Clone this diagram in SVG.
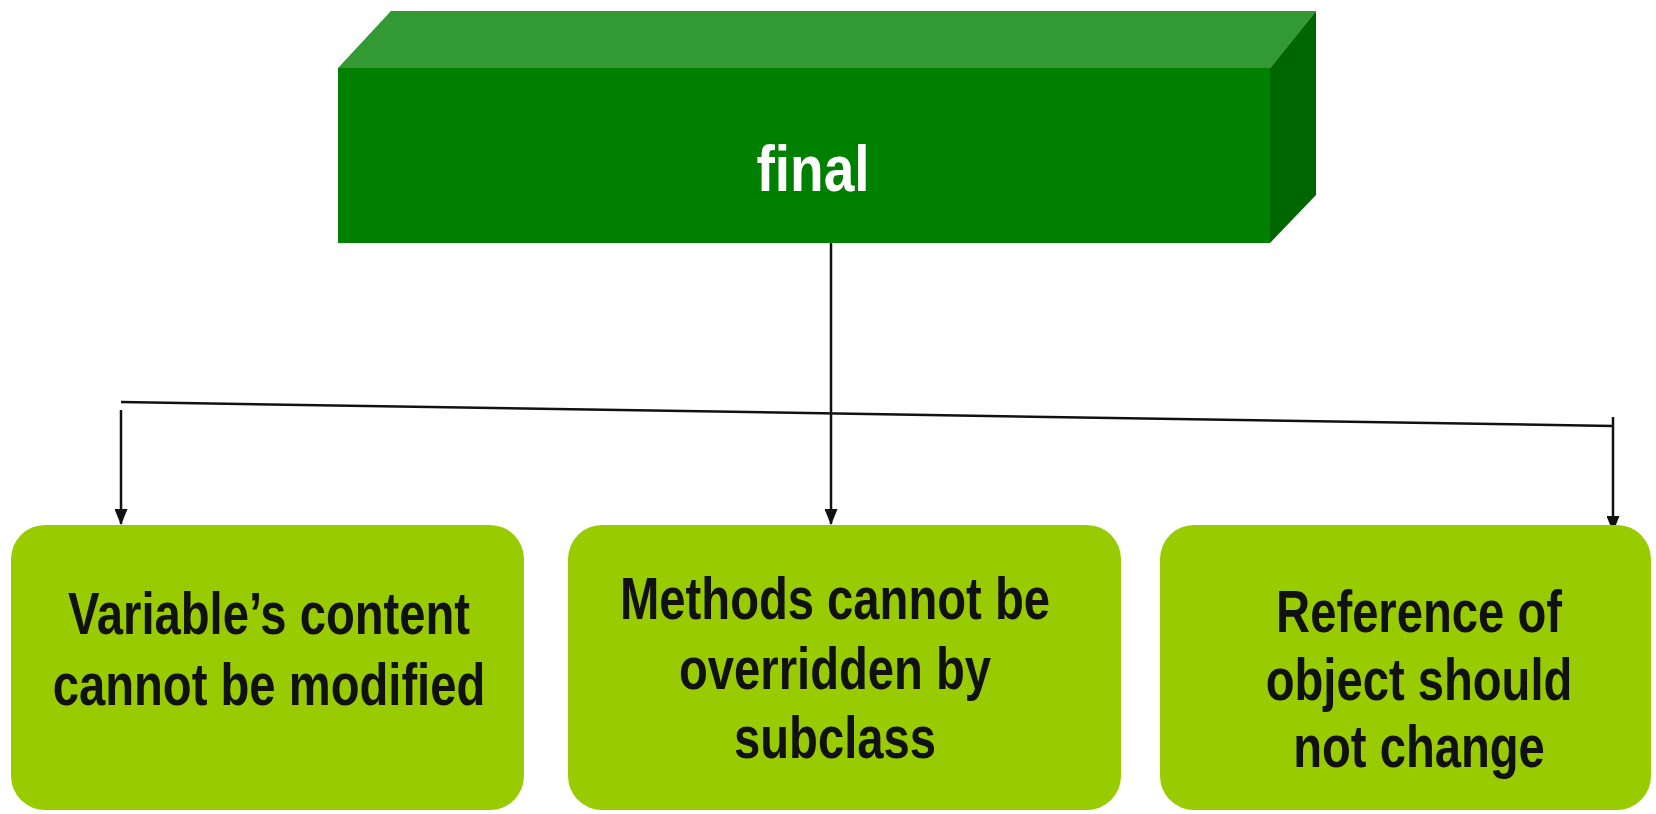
<svg xmlns="http://www.w3.org/2000/svg" width="1656" height="814" viewBox="0 0 1656 814">
<style>
.lbl{font-family:"Liberation Sans",Arial,sans-serif;font-weight:bold;font-size:59px;fill:#111;text-anchor:middle}
.ttl{font-family:"Liberation Sans",Arial,sans-serif;font-weight:bold;font-size:64px;fill:#ffffff;text-anchor:middle}
.box{fill:#99cc00}
.con{stroke:#111;stroke-width:2.5;fill:none}
</style>
<defs>
<marker id="arrow" markerWidth="16" markerHeight="13" refX="15" refY="6.5" orient="auto" markerUnits="userSpaceOnUse" viewBox="0 0 16 13">
<path d="M0,0 L16,6.5 L0,13 Z" fill="#111"/>
</marker>
</defs>
<rect width="1656" height="814" fill="#ffffff"/>
<g id="final">
<polygon points="338,68 391,11 1316,11 1270,68" fill="#339933"/>
<polygon points="1270,68 1316,11 1316,195 1270,243" fill="#006600"/>
<rect x="338" y="68" width="932" height="175" fill="#008000"/>
<text class="ttl" transform="translate(813,191) scale(0.86,1)">final</text>
</g>
<g id="connectors">
<line class="con" x1="831" y1="243" x2="831" y2="524" marker-end="url(#arrow)"/>
<line class="con" x1="121" y1="402" x2="1613" y2="426"/>
<line class="con" x1="121" y1="410" x2="121" y2="524" marker-end="url(#arrow)"/>
<line class="con" x1="1613" y1="417" x2="1613" y2="531" marker-end="url(#arrow)"/>
</g>
<g id="node1">
<rect class="box" x="11" y="525" width="513" height="285" rx="34"/>
<text class="lbl" transform="translate(269,634) scale(0.8,1)">Variable’s content</text>
<text class="lbl" transform="translate(269,705) scale(0.8,1)">cannot be modified</text>
</g>
<g id="node2">
<rect class="box" x="568" y="525" width="553" height="285" rx="34"/>
<text class="lbl" transform="translate(835,619) scale(0.8,1)">Methods cannot be</text>
<text class="lbl" transform="translate(835,689) scale(0.8,1)">overridden by</text>
<text class="lbl" transform="translate(835,758) scale(0.8,1)">subclass</text>
</g>
<g id="node3">
<rect class="box" x="1160" y="525" width="491" height="285" rx="34"/>
<text class="lbl" transform="translate(1419,632) scale(0.8,1)">Reference of</text>
<text class="lbl" transform="translate(1419,700) scale(0.8,1)">object should</text>
<text class="lbl" transform="translate(1419,767) scale(0.8,1)">not change</text>
</g>
</svg>
